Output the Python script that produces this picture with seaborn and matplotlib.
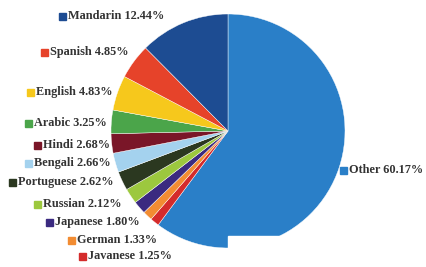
import matplotlib
matplotlib.use("Agg")
import matplotlib.pyplot as plt
import seaborn as sns
from matplotlib.patches import Rectangle

sns.set_theme(style="white")
plt.rcParams['font.family'] = ['Liberation Serif', 'DejaVu Sans']

languages = ["Other", "Javanese", "German", "Japanese", "Russian", "Portuguese",
             "Bengali", "Hindi", "Arabic", "English", "Spanish", "Mandarin"]
shares = [60.17, 1.25, 1.33, 1.80, 2.12, 2.62, 2.66, 2.68, 3.25, 4.83, 4.85, 12.44]
colors = ["#2a7fc8", "#d42b2b", "#f28c32", "#3b2a80", "#9cc83e", "#2b3820",
          "#a4d2ee", "#7a1628", "#4ba54a", "#f6c81c", "#e6432a", "#1d4c92"]

# label anchor positions in pixel coords (marker x, center y)
label_pos = {
    "Mandarin": (63, 16), "Spanish": (45, 52), "English": (31, 92),
    "Arabic": (29, 123), "Hindi": (38, 145), "Bengali": (29, 163),
    "Portuguese": (13, 182), "Russian": (38, 204), "Japanese": (50, 222),
    "German": (72, 240), "Javanese": (83, 256), "Other": (344, 170),
}

W, H = 427, 267
fig = plt.figure(figsize=(W / 100, H / 100), dpi=100)
fig.patch.set_facecolor("white")

cx, cy, r = 228, 131, 117
ax = fig.add_axes([(cx - r) / W, (H - cy - r) / H, 2 * r / W, 2 * r / H])
ax.pie(shares, colors=colors, startangle=90, counterclock=False,
       wedgeprops=dict(linewidth=0.3, edgecolor="white"), radius=1.0)
ax.set_xlim(-1, 1)
ax.set_ylim(-1, 1)
ax.set_aspect("auto")
ax.axis("off")

ov = fig.add_axes([0, 0, 1, 1])
ov.set_xlim(0, W)
ov.set_ylim(H, 0)
ov.axis("off")
ov.patch.set_alpha(0)

for lang, val, col in zip(languages, shares, colors):
    x, y = label_pos[lang]
    ov.add_patch(Rectangle((x - 3.5, y - 3.5), 7, 7, color=col))
    ov.text(x + 5, y, f"{lang} {val:.2f}%", fontsize=8.8, fontweight="bold",
            color="#333333", va="center", ha="left")

ov.add_patch(Rectangle((228, 236), 138, 19, color="white", zorder=5))

fig.savefig("out.png", dpi=100, facecolor="white")
